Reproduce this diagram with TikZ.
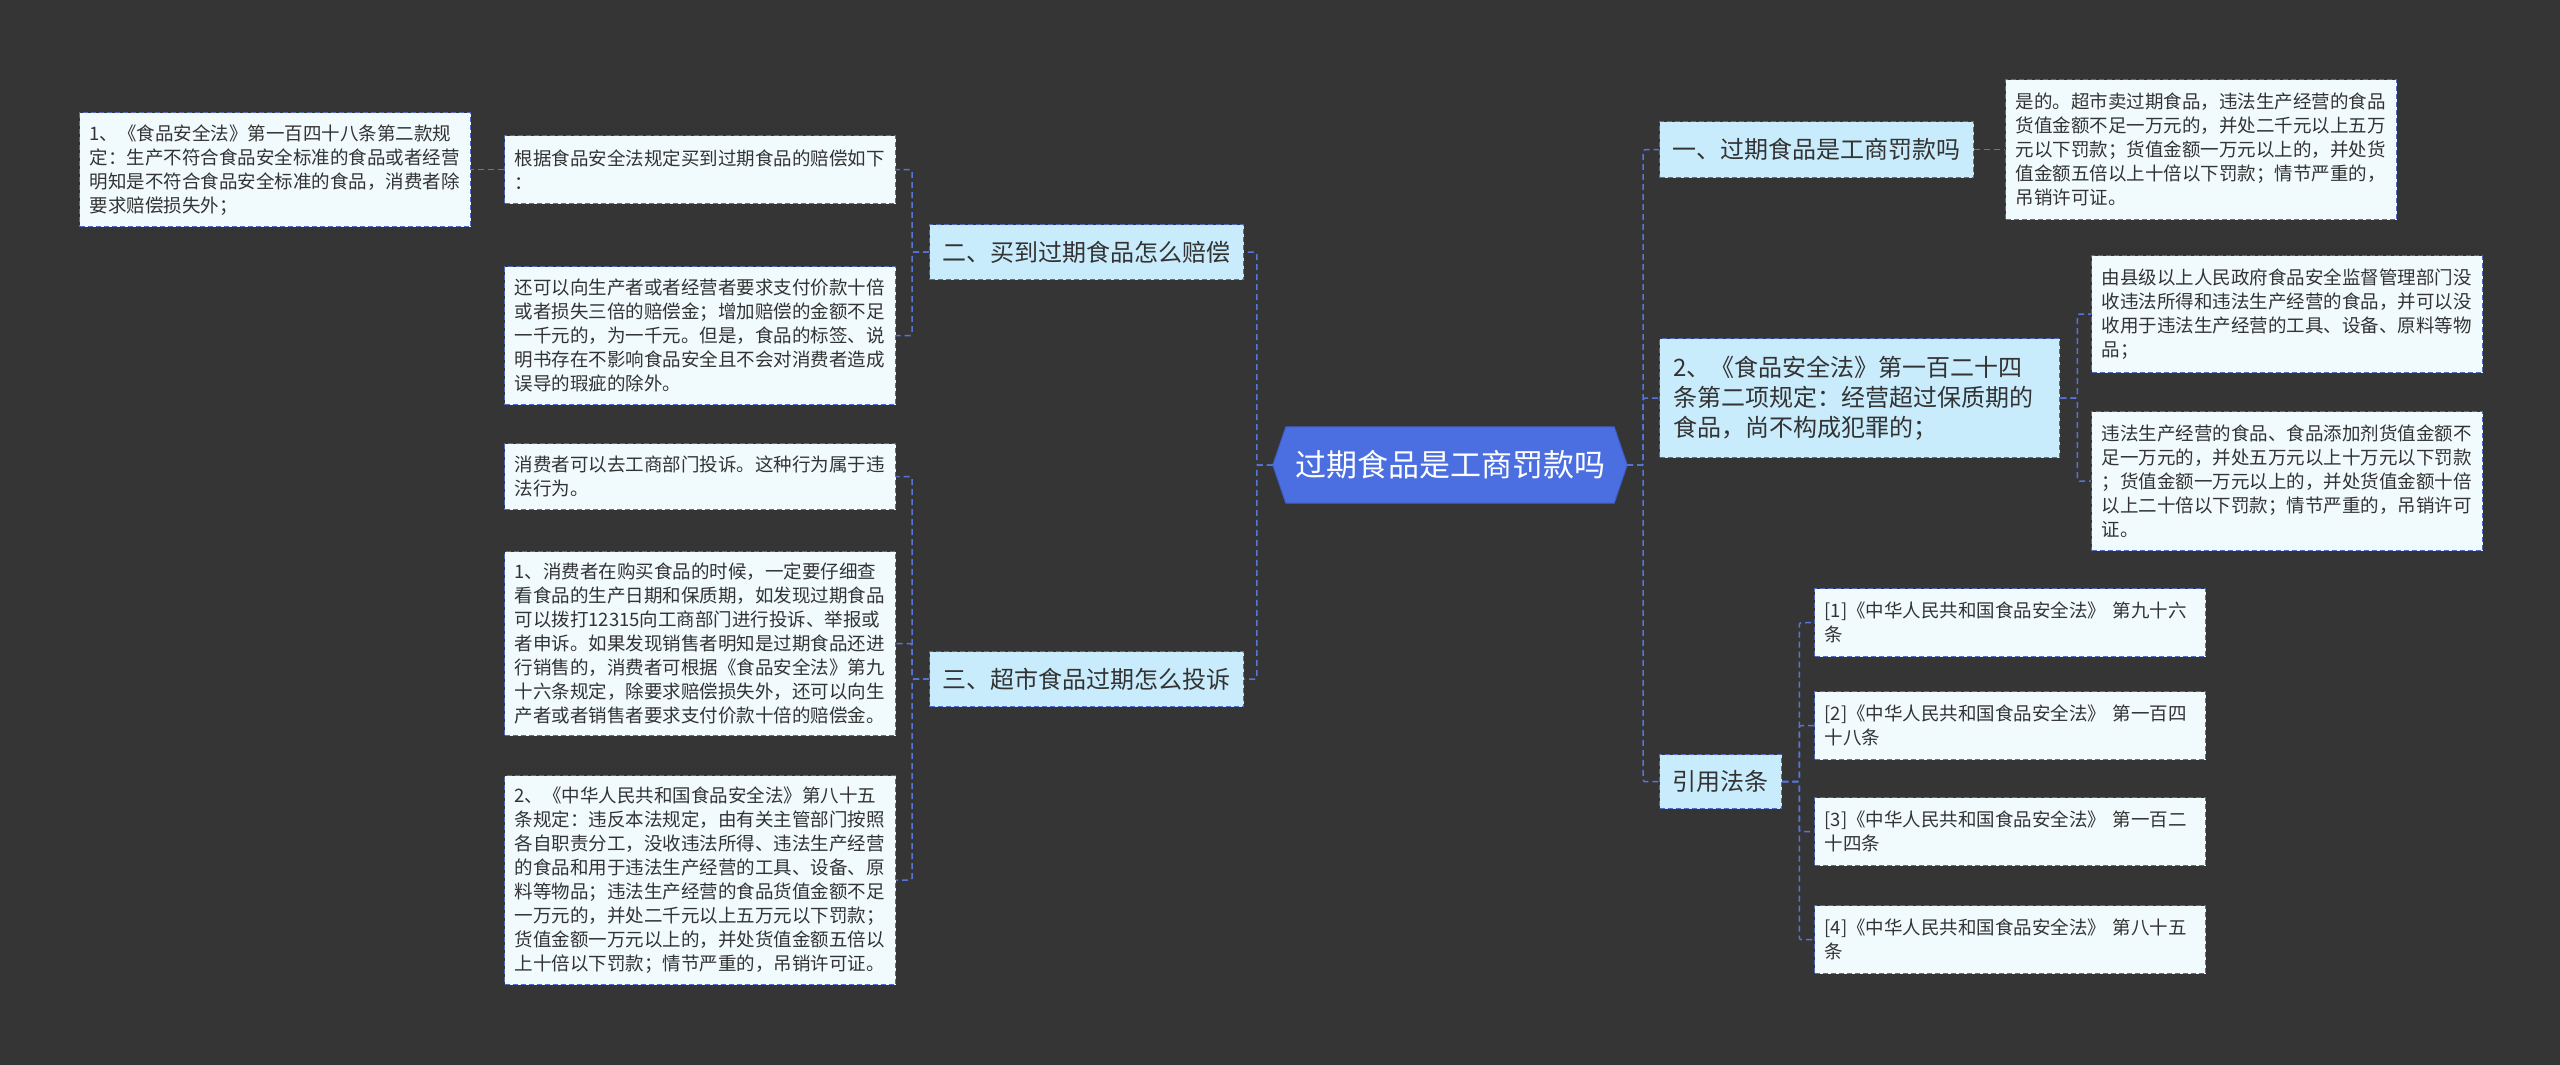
\documentclass[tikz,border=0pt]{standalone}
\usepackage{fontspec}
\setmainfont{Noto Sans CJK SC}
\usetikzlibrary{backgrounds}
\definecolor{bgc}{HTML}{363536}
\definecolor{leaffill}{HTML}{F1FBFE}
\definecolor{lvfill}{HTML}{C9ECFC}
\definecolor{edgec}{HTML}{4F6AC4}
\definecolor{connc}{HTML}{5675D9}
\definecolor{centralc}{HTML}{4B6FE0}
\definecolor{centraledge}{HTML}{3D5EC8}
\definecolor{txtc}{HTML}{333333}
\tikzset{
  leaf/.style={draw=edgec, fill=leaffill, line width=1.3pt, dash pattern=on 5pt off 3pt,
    text=txtc, font=\fontsize{18.5pt}{24pt}\selectfont, text width=371pt, align=left,
    inner xsep=10pt, inner ysep=4pt, anchor=north west},
  lvl/.style={draw=edgec, fill=lvfill, line width=1.3pt, dash pattern=on 5pt off 3pt,
    text=txtc, font=\fontsize{24pt}{30pt}\selectfont, inner xsep=13pt, inner ysep=4pt,
    anchor=north west},
  centralnode/.style={text=white, font=\fontsize{31pt}{36pt}\selectfont,
    minimum width=354pt, minimum height=76pt, inner sep=0pt},
  cn/.style={draw=connc, line width=1.5pt, dash pattern=on 6pt off 4pt, rounded corners=2pt},
}
\begin{document}
\begin{tikzpicture}[x=1pt,y=-1pt]
\useasboundingbox (0,0) rectangle (2560,1065);

% central
\node[centralnode] (c) at (1450,465) {过期食品是工商罚款吗};

% left level 1
\node[lvl, minimum height=55pt] (A) at (929,224) {二、买到过期食品怎么赔偿};
\node[lvl, minimum height=55pt] (B) at (929,651) {三、超市食品过期怎么投诉};

% left leaves
\node[leaf, minimum height=68pt] (A1) at (504,135) {根据食品安全法规定买到过期食品的赔偿如下\\：};
\node[leaf, minimum height=114pt] (G) at (79,112) {1、《食品安全法》第一百四十八条第二款规\\定：生产不符合食品安全标准的食品或者经营\\明知是不符合食品安全标准的食品，消费者除\\要求赔偿损失外；};
\node[leaf, minimum height=138pt] (A2) at (504,266) {还可以向生产者或者经营者要求支付价款十倍\\或者损失三倍的赔偿金；增加赔偿的金额不足\\一千元的，为一千元。但是，食品的标签、说\\明书存在不影响食品安全且不会对消费者造成\\误导的瑕疵的除外。};
\node[leaf, minimum height=66pt] (B1) at (504,443) {消费者可以去工商部门投诉。这种行为属于违\\法行为。};
\node[leaf, minimum height=184pt] (B2) at (504,551) {1、消费者在购买食品的时候，一定要仔细查\\看食品的生产日期和保质期，如发现过期食品\\可以拨打12315向工商部门进行投诉、举报或\\者申诉。如果发现销售者明知是过期食品还进\\行销售的，消费者可根据《食品安全法》第九\\十六条规定，除要求赔偿损失外，还可以向生\\产者或者销售者要求支付价款十倍的赔偿金。};
\node[leaf, minimum height=209pt] (B3) at (504,775) {2、《中华人民共和国食品安全法》第八十五\\条规定：违反本法规定，由有关主管部门按照\\各自职责分工，没收违法所得、违法生产经营\\的食品和用于违法生产经营的工具、设备、原\\料等物品；违法生产经营的食品货值金额不足\\一万元的，并处二千元以上五万元以下罚款；\\货值金额一万元以上的，并处货值金额五倍以\\上十倍以下罚款；情节严重的，吊销许可证。};

% right level 1
\node[lvl, minimum height=56pt] (C) at (1659,121) {一、过期食品是工商罚款吗};
\node[lvl, minimum height=119pt, text width=372pt, align=left, inner xsep=14pt] (D) at (1659,338) {2、《食品安全法》第一百二十四\\条第二项规定：经营超过保质期的\\食品，尚不构成犯罪的；};
\node[lvl, minimum height=54pt] (E) at (1659,754) {引用法条};

% right leaves
\node[leaf, minimum height=140pt] (C1) at (2005,79) {是的。超市卖过期食品，违法生产经营的食品\\货值金额不足一万元的，并处二千元以上五万\\元以下罚款；货值金额一万元以上的，并处货\\值金额五倍以上十倍以下罚款；情节严重的，\\吊销许可证。};
\node[leaf, minimum height=117pt] (D1) at (2091,255) {由县级以上人民政府食品安全监督管理部门没\\收违法所得和违法生产经营的食品，并可以没\\收用于违法生产经营的工具、设备、原料等物\\品；};
\node[leaf, minimum height=139pt] (D2) at (2091,411) {违法生产经营的食品、食品添加剂货值金额不\\足一万元的，并处五万元以上十万元以下罚款\\；货值金额一万元以上的，并处货值金额十倍\\以上二十倍以下罚款；情节严重的，吊销许可\\证。};
\node[leaf, minimum height=68pt] (E1) at (1814,588) {[1]《中华人民共和国食品安全法》 第九十六\\条};
\node[leaf, minimum height=68pt] (E2) at (1814,691) {[2]《中华人民共和国食品安全法》 第一百四\\十八条};
\node[leaf, minimum height=68pt] (E3) at (1814,797) {[3]《中华人民共和国食品安全法》 第一百二\\十四条};
\node[leaf, minimum height=68pt] (E4) at (1814,905) {[4]《中华人民共和国食品安全法》 第八十五\\条};

% background and central hexagon
\begin{scope}[on background layer]
\fill[bgc] (0,0) rectangle (2560,1065);
\filldraw[fill=centralc, draw=centraledge, line width=1pt]
  (c.west) -- ([xshift=13pt]c.north west) -- ([xshift=-13pt]c.north east) -- (c.east)
  -- ([xshift=-13pt]c.south east) -- ([xshift=13pt]c.south west) -- cycle;
\end{scope}

% connectors
\draw[cn] (c.west) -- ++(-16,0) |- (A.east);
\draw[cn] (c.west) -- ++(-16,0) |- (B.east);
\draw[cn] (A.west) -- ++(-17,0) |- (A1.east);
\draw[cn] (A.west) -- ++(-17,0) |- (A2.east);
\draw[cn] (A1.west) -- (G.east);
\draw[cn] (B.west) -- ++(-17,0) |- (B1.east);
\draw[cn] (B.west) -- ++(-17,0) |- (B2.east);
\draw[cn] (B.west) -- ++(-17,0) |- (B3.east);
\draw[cn] (c.east) -- ++(16,0) |- (C.west);
\draw[cn] (c.east) -- ++(16,0) |- (D.west);
\draw[cn] (c.east) -- ++(16,0) |- (E.west);
\draw[cn] (C.east) -- (C1.west);
\draw[cn] (D.east) -- ++(17,0) |- (D1.west);
\draw[cn] (D.east) -- ++(17,0) |- (D2.west);
\draw[cn] (E.east) -- ++(17,0) |- (E1.west);
\draw[cn] (E.east) -- ++(17,0) |- (E2.west);
\draw[cn] (E.east) -- ++(17,0) |- (E3.west);
\draw[cn] (E.east) -- ++(17,0) |- (E4.west);
\end{tikzpicture}
\end{document}
